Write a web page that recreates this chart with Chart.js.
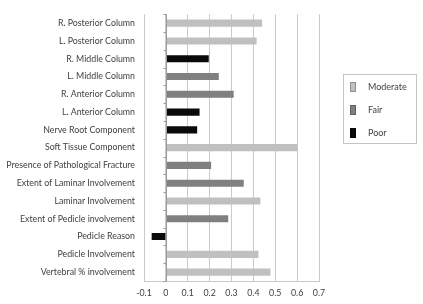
<!DOCTYPE html>
<html>
<head>
<meta charset="utf-8">
<script src="https://cdn.jsdelivr.net/npm/chart.js@4"></script>
<style>
  html, body { margin: 0; padding: 0; background: #fff; }
  #wrap { width: 423px; height: 304px; position: relative; }
  #legend {
    position: absolute; left: 343px; top: 74px; width: 74px; height: 70px;
    border: 1px solid #c4c4c4; box-sizing: border-box;
    font: 9px Lato, sans-serif; color: #404040;
  }
  #legend div { position: absolute; left: 6px; height: 10px; line-height: 10px; white-space: nowrap; }
  #legend span.box { display: inline-block; width: 4px; height: 8px; vertical-align: middle; margin-right: 12px; border: 0.5px solid rgba(0,0,0,0.25); }
  #legend span.txt { vertical-align: middle; }
</style>
</head>
<body>
<div id="wrap"><canvas id="chart"></canvas><div id="legend"></div></div>
<script>
const categories = [
  "R. Posterior Column",
  "L. Posterior Column",
  "R. Middle Column",
  "L. Middle Column",
  "R. Anterior Column",
  "L. Anterior Column",
  "Nerve Root Component",
  "Soft Tissue Component",
  "Presence of Pathological Fracture",
  "Extent of Laminar Involvement",
  "Laminar Involvement",
  "Extent of Pedicle involvement",
  "Pedicle Reason",
  "Pedicle Involvement",
  "Vertebral % involvement",
];
const moderate = [0.44, 0.415, null, null, null, null, null, 0.6, null, null, 0.432, null, null, 0.423, 0.478];
const fair = [null, null, null, 0.242, 0.31, null, null, null, 0.207, 0.356, null, 0.285, null, null, null];
const poor = [null, null, 0.196, null, null, 0.154, 0.143, null, null, null, null, null, -0.065, null, null];
const xTicks = [-0.1, 0, 0.1, 0.2, 0.3, 0.4, 0.5, 0.6, 0.7];

const labelFont = { family: "Lato", size: 8.8 };
const textColor = "#404040";

// zero axis line with small category ticks
const zeroAxis = {
  id: "zeroAxis",
  afterDatasetsDraw(chart) {
    const { ctx, scales } = chart;
    const x0 = Math.round(scales.x.getPixelForValue(0)) + 0.5;
    ctx.save();
    ctx.strokeStyle = "#9a9a9a";
    ctx.lineWidth = 1;
    ctx.beginPath();
    ctx.moveTo(x0, chart.chartArea.top);
    ctx.lineTo(x0, chart.chartArea.bottom);
    for (let i = 0; i <= categories.length; i++) {
      const y = Math.round(scales.y.getPixelForValue(i - 0.5)) + 0.5;
      ctx.moveTo(x0 - 3, y);
      ctx.lineTo(x0, y);
    }
    ctx.stroke();
    ctx.restore();
  },
};

// html legend in a bordered box
const htmlLegend = {
  id: "htmlLegend",
  afterUpdate(chart) {
    const el = document.getElementById("legend");
    el.innerHTML = "";
    const tops = [6, 29, 52];
    chart.data.datasets.forEach((ds, i) => {
      const row = document.createElement("div");
      row.style.top = tops[i] + "px";
      const box = document.createElement("span");
      box.className = "box";
      box.style.background = ds.backgroundColor;
      const txt = document.createElement("span");
      txt.className = "txt";
      txt.textContent = ds.label;
      row.appendChild(box);
      row.appendChild(txt);
      el.appendChild(row);
    });
  },
};

new Chart(document.getElementById("chart"), {
  type: "bar",
  data: {
    labels: categories,
    datasets: [
      { label: "Moderate", data: moderate, backgroundColor: "#c0c0c0" },
      { label: "Fair", data: fair, backgroundColor: "#808080" },
      { label: "Poor", data: poor, backgroundColor: "#0a0a0a" },
    ],
  },
  options: {
    indexAxis: "y",
    responsive: true,
    maintainAspectRatio: false,
    animation: false,
    grouped: false,
    barPercentage: 0.4,
    categoryPercentage: 1,
    layout: { padding: { top: 5, right: 104, bottom: 0, left: 0 } },
    scales: {
      x: {
        min: -0.1,
        max: 0.7,
        afterBuildTicks: (scale) => {
          scale.ticks = xTicks.map((v) => ({ value: v }));
        },
        afterFit: (scale) => {
          scale.height = 23;
        },
        ticks: {
          font: labelFont,
          color: textColor,
          padding: 7,
          callback: (v) => String(Math.round(v * 10) / 10),
        },
        grid: { color: "#cacaca", drawTicks: false },
        border: { display: true, color: "#cacaca" },
      },
      y: {
        afterFit: (scale) => {
          scale.width = 144;
        },
        ticks: { font: labelFont, color: textColor, padding: 9 },
        grid: { display: false, drawTicks: false },
        border: { display: false },
      },
    },
    plugins: {
      tooltip: { enabled: false },
      legend: { display: false },
    },
  },
  plugins: [zeroAxis, htmlLegend],
});
</script>
</body>
</html>
